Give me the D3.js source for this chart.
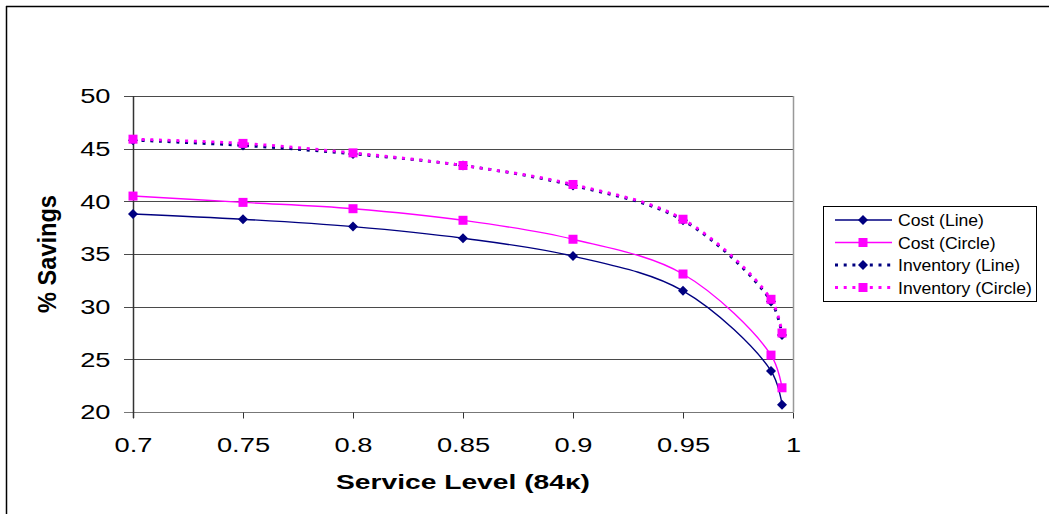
<!DOCTYPE html>
<html>
<head>
<meta charset="utf-8">
<script src="https://cdn.jsdelivr.net/npm/d3@7"></script>
<style>
  html, body { margin: 0; padding: 0; background: #fff; }
  svg { display: block; font-family: "Liberation Sans", Arial, sans-serif; }
</style>
</head>
<body>
<svg id="chart" width="1049" height="514"></svg>
<script>
const serviceLevels = [0.7, 0.75, 0.8, 0.85, 0.9, 0.95, 0.99, 0.995];
const costLine = [38.8, 38.3, 37.6, 36.5, 34.8, 31.5, 23.9, 20.7];
const costCircle = [40.5, 39.9, 39.3, 38.2, 36.4, 33.1, 25.4, 22.3];
const inventoryLine = [45.8, 45.3, 44.5, 43.4, 41.5, 38.2, 30.5, 27.3];
const inventoryCircle = [45.9, 45.5, 44.6, 43.4, 41.6, 38.3, 30.7, 27.5];
const seriesNames = ["Cost (Line)", "Cost (Circle)", "Inventory (Line)", "Inventory (Circle)"];
const xTicks = [0.7, 0.75, 0.8, 0.85, 0.9, 0.95, 1];
const yTicks = [20, 25, 30, 35, 40, 45, 50];
const xTitle = "Service Level (84\u03ba)";
const yTitle = "% Savings";

const series = [
  { name: seriesNames[0], values: costLine, color: "#000080", marker: "diamond", dash: null },
  { name: seriesNames[1], values: costCircle, color: "#ff00ff", marker: "square", dash: null },
  { name: seriesNames[2], values: inventoryLine, color: "#000080", marker: "diamond", dash: "3,5.7" },
  { name: seriesNames[3], values: inventoryCircle, color: "#ff00ff", marker: "square", dash: "3,5.7" }
];

const svg = d3.select("#chart");
const stretch = 1.3;

// chart area border (left & top)
svg.append("line").attr("x1", 6.5).attr("x2", 6.5).attr("y1", 6).attr("y2", 514)
  .attr("stroke", "#000").attr("stroke-width", 1.5);
svg.append("line").attr("x1", 6).attr("x2", 1049).attr("y1", 6.5).attr("y2", 6.5)
  .attr("stroke", "#000").attr("stroke-width", 1.5);

const x = d3.scaleLinear().domain([0.7, 1]).range([133, 793]);
const y = d3.scaleLinear().domain([20, 50]).range([412, 96]);

// gridlines
svg.append("g").selectAll("line").data(yTicks).join("line")
  .attr("x1", 124).attr("x2", 793)
  .attr("y1", d => Math.round(y(d)) + 0.5).attr("y2", d => Math.round(y(d)) + 0.5)
  .attr("stroke", d => d === 20 ? "#777" : "#4a4a4a").attr("stroke-width", 1.2);

// right plot border
svg.append("line").attr("x1", 793.5).attr("x2", 793.5).attr("y1", 96).attr("y2", 412)
  .attr("stroke", "#999").attr("stroke-width", 1.5);

// y axis
const yAxis = d3.axisLeft(y).tickValues(yTicks).tickSize(0).tickPadding(22).tickFormat(d3.format("d"));
const gy = svg.append("g").attr("transform", "translate(133,0)").call(yAxis);
gy.select(".domain").remove();
gy.selectAll("text").attr("font-size", 21).attr("fill", "#000")
  .attr("x", -22.5 / stretch).attr("transform", `scale(${stretch},1)`);
svg.append("line").attr("x1", 133.5).attr("x2", 133.5).attr("y1", 96).attr("y2", 418)
  .attr("stroke", "#333").attr("stroke-width", 1.5);

// x axis
const xAxis = d3.axisBottom(x).tickValues(xTicks).tickSize(6).tickPadding(20)
  .tickFormat(d => String(+d.toFixed(2)));
const gx = svg.append("g").attr("transform", "translate(0,412.5)").call(xAxis);
gx.select(".domain").remove();
gx.selectAll(".tick line").attr("stroke", "#333").attr("stroke-width", 1);
gx.selectAll("text").attr("font-size", 21).attr("fill", "#000")
  .attr("y", 39.5).attr("dy", 0).attr("transform", `scale(${stretch},1)`);

// titles
svg.append("text").attr("x", 463).attr("y", 489).attr("text-anchor", "middle")
  .attr("font-size", 21).attr("font-weight", "bold").attr("textLength", 254)
  .attr("lengthAdjust", "spacingAndGlyphs").text(xTitle);
svg.append("text").attr("transform", "translate(56,254) rotate(-90)").attr("text-anchor", "middle")
  .attr("font-size", 26).attr("font-weight", "bold").attr("textLength", 118)
  .attr("lengthAdjust", "spacingAndGlyphs").text(yTitle);

const line = d3.line().x(d => x(d[0])).y(d => y(d[1])).curve(d3.curveCatmullRom.alpha(0.5));

function drawMarker(g, s, cx, cy) {
  if (s.marker === "diamond") {
    g.append("path").attr("d", "M0,-5L5,0L0,5L-5,0Z")
      .attr("transform", `translate(${cx},${cy})`).attr("fill", s.color);
  } else {
    g.append("rect").attr("x", cx - 4.5).attr("y", cy - 4.5).attr("width", 9).attr("height", 9)
      .attr("fill", s.color);
  }
}

series.forEach(s => {
  const pts = serviceLevels.map((v, i) => [v, s.values[i]]);
  const g = svg.append("g");
  g.append("path").datum(pts).attr("d", line).attr("fill", "none")
    .attr("stroke", s.color).attr("stroke-width", s.dash ? 2.8 : 1.4)
    .attr("stroke-dasharray", s.dash);
  pts.forEach(p => drawMarker(g, s, x(p[0]), y(p[1])));
});

// legend
const lg = svg.append("g");
lg.append("rect").attr("x", 823.5).attr("y", 206.5).attr("width", 213).attr("height", 95)
  .attr("fill", "#fff").attr("stroke", "#000").attr("stroke-width", 1);
series.forEach((s, i) => {
  const cy = 220 + i * 22.5;
  lg.append("line").attr("x1", 835).attr("x2", 892).attr("y1", cy).attr("y2", cy)
    .attr("stroke", s.color).attr("stroke-width", s.dash ? 2.8 : 1.4).attr("stroke-dasharray", s.dash);
  drawMarker(lg, s, 863, cy);
  lg.append("text").attr("transform", `translate(898,${cy + 6}) scale(1.1,1)`)
    .attr("font-size", 16).attr("fill", "#000").text(s.name);
});
</script>
</body>
</html>
